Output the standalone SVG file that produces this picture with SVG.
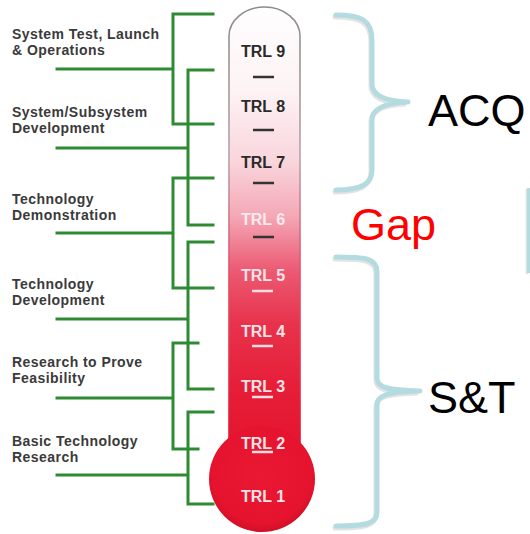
<svg xmlns="http://www.w3.org/2000/svg" width="530" height="534" viewBox="0 0 530 534">
  <style>
    .lbl { font-family: "Liberation Sans", Arial, sans-serif; font-weight: bold; font-size: 14px; letter-spacing: 0.45px; fill: #3a3a3a; }
    .trl { font-family: "Liberation Sans", Arial, sans-serif; font-weight: bold; font-size: 16px; text-anchor: middle; }
    .dark { fill: #2a2a2a; }
    .light { fill: #f9e3e7; }
    .big { font-family: "Liberation Sans", Arial, sans-serif; font-size: 45px; }
    .conn { stroke: #2e8b34; stroke-width: 3; fill: none; stroke-linecap: square; }
    .brace { fill: none; stroke: #b4dce0; stroke-width: 5; stroke-linecap: round; stroke-linejoin: round; }
    .braceShadow { fill: none; stroke: #c8c8c8; stroke-width: 5; stroke-linecap: round; opacity: 0.5; }
    .dashD { stroke: #333333; stroke-width: 2.5; }
    .dashL { stroke: #f6dde2; stroke-width: 2.5; }
  </style>
  <defs>
    <linearGradient id="tubeFill" gradientUnits="userSpaceOnUse" x1="0" y1="0" x2="0" y2="450">
      <stop offset="0" stop-color="#ffffff"/>
      <stop offset="0.2" stop-color="#fdf3f5"/>
      <stop offset="0.36" stop-color="#f9d5dc"/>
      <stop offset="0.48" stop-color="#f4a8b6"/>
      <stop offset="0.6" stop-color="#ec5a73"/>
      <stop offset="0.72" stop-color="#e8324c"/>
      <stop offset="0.86" stop-color="#e61e38"/>
      <stop offset="1" stop-color="#e5142f"/>
    </linearGradient>
    <linearGradient id="tubeStroke" gradientUnits="userSpaceOnUse" x1="0" y1="0" x2="0" y2="450">
      <stop offset="0" stop-color="#8a8a8a"/>
      <stop offset="0.35" stop-color="#b9a4a8"/>
      <stop offset="0.6" stop-color="#e2526a"/>
      <stop offset="1" stop-color="#e0142e"/>
    </linearGradient>
    <radialGradient id="bulbFill" cx="0.5" cy="0.45" r="0.55">
      <stop offset="0" stop-color="#ea1833"/>
      <stop offset="0.85" stop-color="#e5132e"/>
      <stop offset="1" stop-color="#d30f28"/>
    </radialGradient>
  </defs>
  <rect x="0" y="0" width="530" height="534" fill="#ffffff"/>

  <!-- connectors -->
  <g id="connectors">
    <path class="conn" d="M213,14 H173 V124 H213 M57,69 H173"/>
    <path class="conn" d="M213,70 H188 V225 H213 M57,148 H188"/>
    <path class="conn" d="M213,178 H173 V288 H213 M57,233 H173"/>
    <path class="conn" d="M213,242 H188 V389 H213 M57,319 H188"/>
    <path class="conn" d="M198,343 H173 V449 H198 M57,398 H173"/>
    <path class="conn" d="M213,412 H188 V504 H213 M57,475 H188"/>
  </g>

  <!-- left labels -->
  <g id="label-system-test">
    <text class="lbl" x="12" y="39">System Test, Launch</text>
    <text class="lbl" x="12" y="55">&amp; Operations</text>
  </g>
  <g id="label-system-dev">
    <text class="lbl" x="12" y="117">System/Subsystem</text>
    <text class="lbl" x="12" y="133">Development</text>
  </g>
  <g id="label-tech-demo">
    <text class="lbl" x="12" y="204">Technology</text>
    <text class="lbl" x="12" y="220">Demonstration</text>
  </g>
  <g id="label-tech-dev">
    <text class="lbl" x="12" y="289">Technology</text>
    <text class="lbl" x="12" y="305">Development</text>
  </g>
  <g id="label-research">
    <text class="lbl" x="12" y="367">Research to Prove</text>
    <text class="lbl" x="12" y="383">Feasibility</text>
  </g>
  <g id="label-basic">
    <text class="lbl" x="12" y="446">Basic Technology</text>
    <text class="lbl" x="12" y="462">Research</text>
  </g>

  <!-- thermometer -->
  <g id="thermometer">
    <path d="M229,450 V36 A35.5,29 0 0 1 300,36 V450 Z" fill="url(#tubeFill)"/>
    <path d="M229,450 V36 A35.5,29 0 0 1 300,36 V450" fill="none" stroke="url(#tubeStroke)" stroke-width="1.6"/>
    <circle cx="262" cy="479" r="53" fill="url(#bulbFill)"/>
    <text class="trl dark" x="263" y="57">TRL 9</text>
    <line class="dashD" x1="253" y1="77" x2="274" y2="77"/>
    <text class="trl dark" x="263" y="112">TRL 8</text>
    <line class="dashD" x1="253" y1="130" x2="274" y2="130"/>
    <text class="trl dark" x="263" y="168">TRL 7</text>
    <line class="dashD" x1="253" y1="183" x2="274" y2="183"/>
    <text class="trl" x="263" y="225" fill="#fce9ed">TRL 6</text>
    <line class="dashD" x1="253" y1="237" x2="274" y2="237"/>
    <text class="trl light" x="263" y="281">TRL 5</text>
    <line class="dashL" x1="252" y1="291" x2="273" y2="291"/>
    <text class="trl light" x="263" y="337">TRL 4</text>
    <line class="dashL" x1="252" y1="346" x2="273" y2="346"/>
    <text class="trl light" x="263" y="392">TRL 3</text>
    <line class="dashL" x1="252" y1="397" x2="273" y2="397"/>
    <text class="trl light" x="263" y="449">TRL 2</text>
    <line class="dashL" x1="252" y1="452" x2="273" y2="452"/>
    <text class="trl light" x="263" y="502">TRL 1</text>
  </g>

  <!-- ACQ brace -->
  <g id="brace-acq">
    <path class="braceShadow" d="M335,17 C360,17 371,22 371,42 V86 C371,98 384,103 406,104 C384,105 371,110 371,122 V172 C371,186 360,192 335,192"/>
    <path class="brace" d="M336,15 C361,15 372,20 372,40 V84 C372,96 385,101 408,102 C385,103 372,108 372,120 V170 C372,184 361,190 336,190"/>
    <text class="big" x="428" y="126" fill="#000000">ACQ</text>
  </g>

  <!-- Gap -->
  <g id="gap">
    <text class="big" x="351" y="240" fill="#ff0000">Gap</text>
  </g>

  <!-- partial box at right edge -->
  <g id="right-box">
    <line x1="527" y1="189" x2="527" y2="274" stroke="#c8c8c8" stroke-width="3" opacity="0.5"/>
    <line x1="528.5" y1="188" x2="528.5" y2="273" stroke="#b4dce0" stroke-width="3"/>
  </g>

  <!-- S&T brace -->
  <g id="brace-st">
    <path class="braceShadow" d="M335,259 C364,259 376,260 376,274 V380 C376,389 384,392 418,393 C384,394 376,398 376,407 V514 C376,526 364,528 335,528"/>
    <path class="brace" d="M336,257 C365,257 377,258 377,272 V378 C377,387 385,390 420,391 C385,392 377,396 377,405 V512 C377,524 365,526 336,526"/>
    <text class="big" x="428" y="413" fill="#000000">S&amp;T</text>
  </g>
</svg>
